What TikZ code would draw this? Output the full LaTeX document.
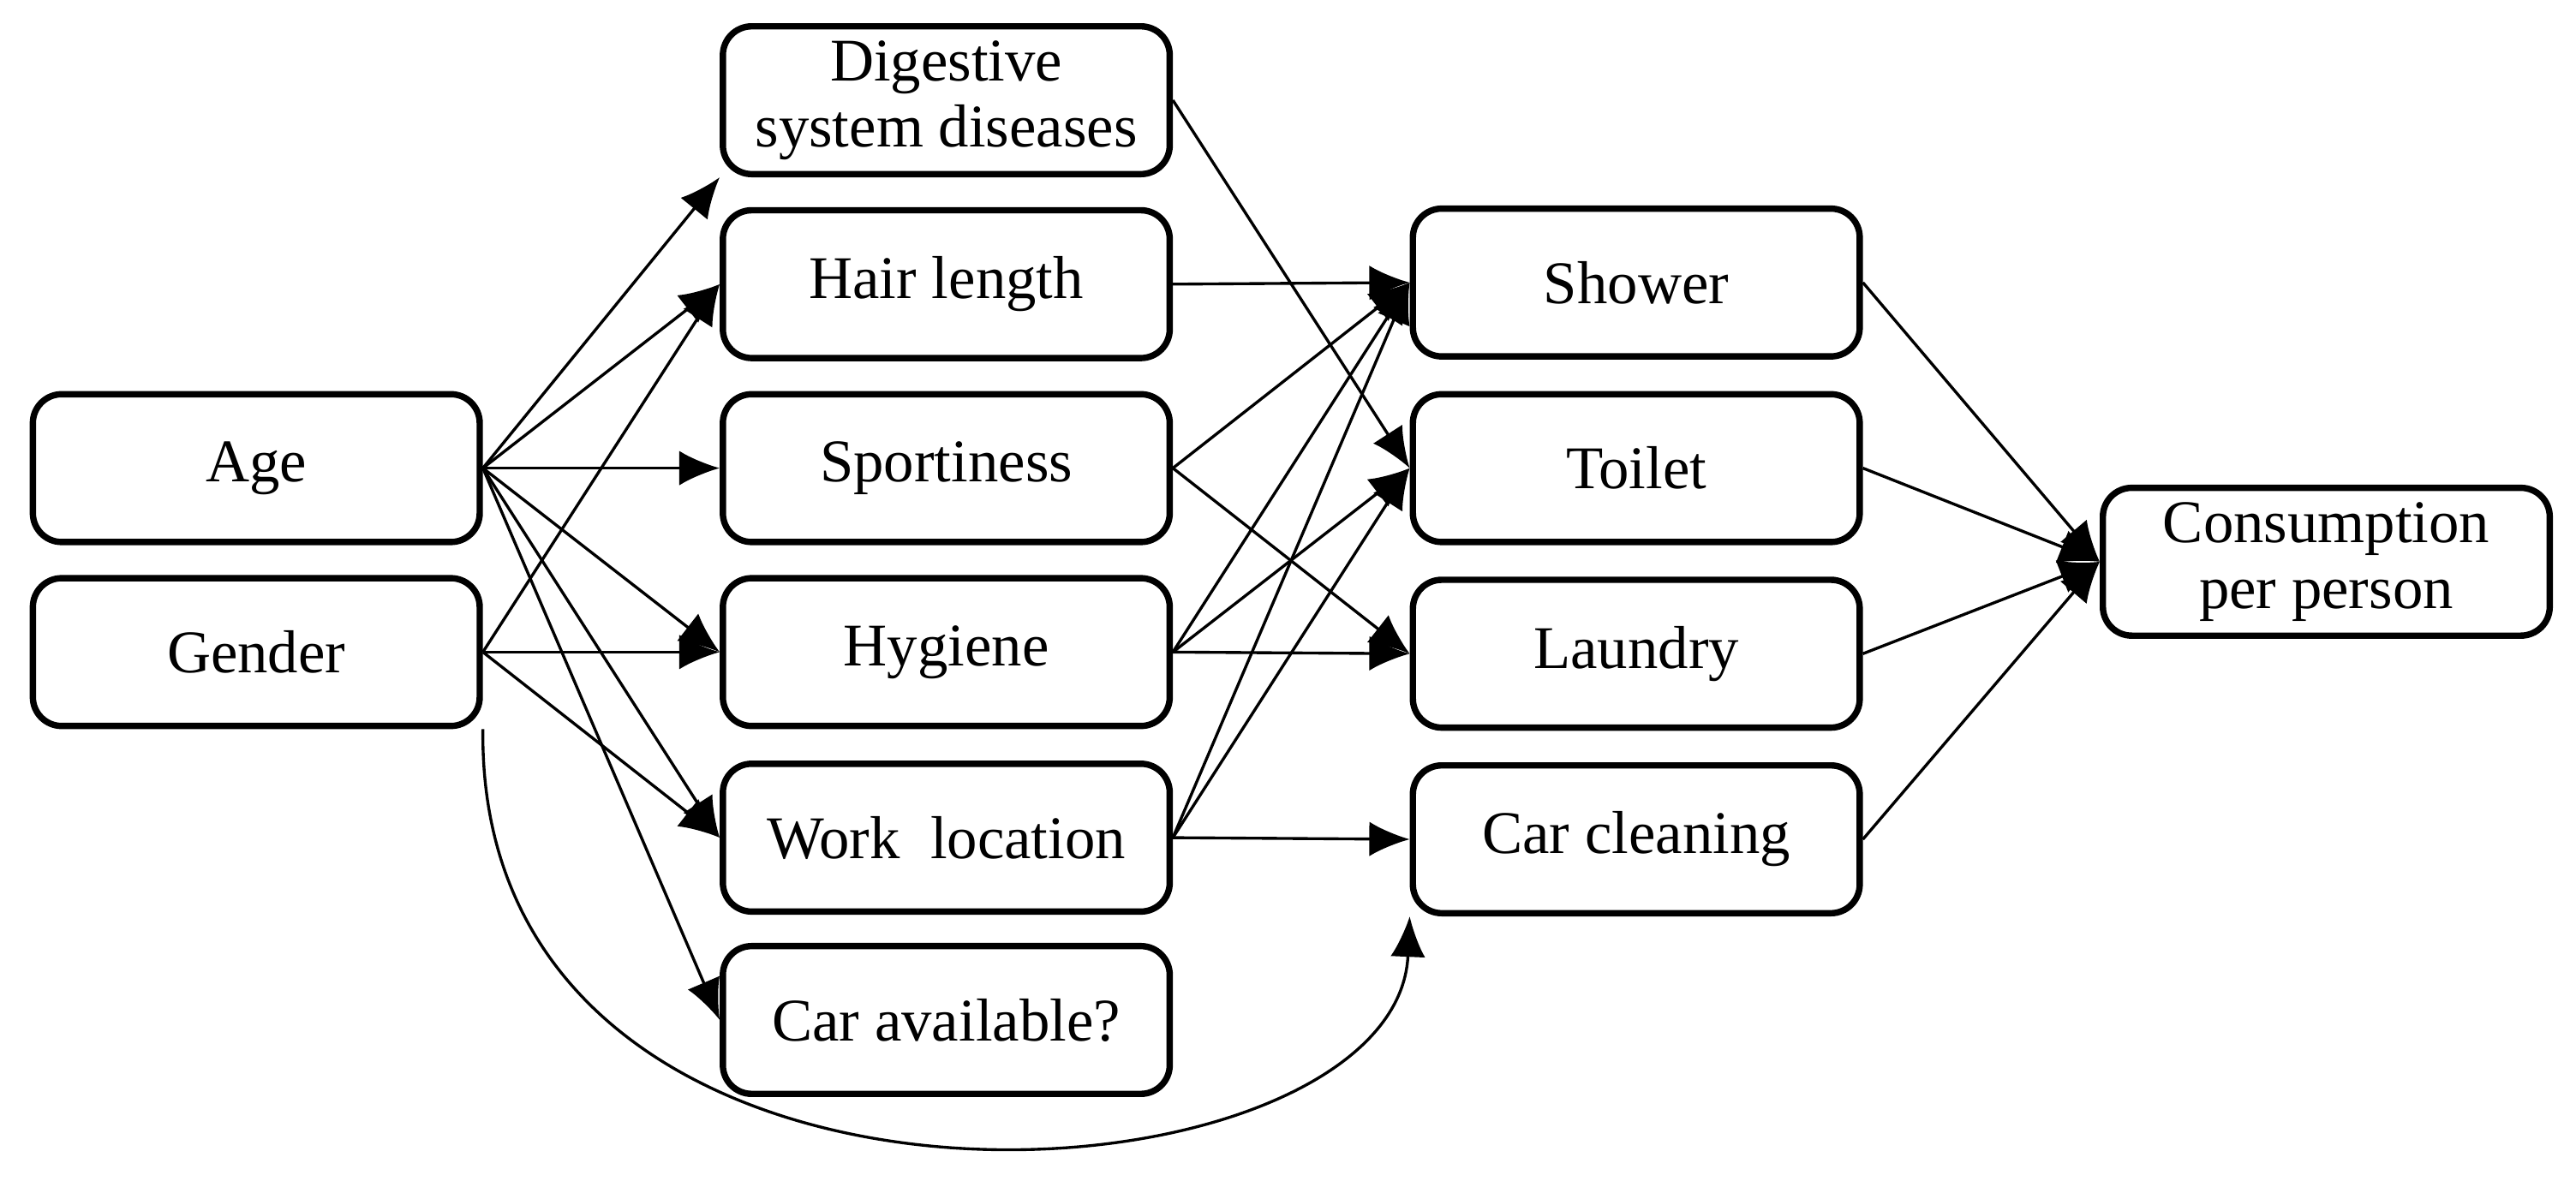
\documentclass[tikz,border=0pt]{standalone}
\usepackage{fontspec}
\setmainfont{Liberation Serif}
\usetikzlibrary{arrows.meta}
\begin{document}
\begin{tikzpicture}[
    box/.style={draw, line width=1.1pt, rounded corners=5pt, minimum width=2.72cm,
      minimum height=0.9cm, align=center, font=\fontsize{10.5}{11.5}\selectfont, inner sep=1pt},
    arr/.style={-{Latex[length=7pt,width=6pt]}, line width=0.5pt}]
\useasboundingbox (0,0) rectangle (15.68,-7.26);

% left column
\node[box] (age) at (1.56,-2.85) {Age};
\node[box] (gen) at (1.56,-3.97) {Gender};

% middle column
\node[box] (dig) at (5.76,-0.61) {Digestive\\system diseases};
\node[box] (hair) at (5.76,-1.73) {Hair length};
\node[box] (spo) at (5.76,-2.85) {Sportiness};
\node[box] (hyg) at (5.76,-3.97) {Hygiene};
\node[box] (work) at (5.76,-5.10) {Work\ \ location};
\node[box] (car) at (5.76,-6.21) {Car available?};

% right column
\node[box] (sho) at (9.96,-1.72) {Shower};
\node[box] (toi) at (9.96,-2.85) {Toilet};
\node[box] (lau) at (9.96,-3.98) {Laundry};
\node[box] (cc) at (9.96,-5.11) {Car cleaning};

\node[box] (con) at (14.16,-3.42) {Consumption\\per person};

% age
\draw[arr] (age.east) -- (dig.south west);
\draw[arr] (age.east) -- (hair.west);
\draw[arr] (age.east) -- (spo.west);
\draw[arr] (age.east) -- (hyg.west);
\draw[arr] (age.east) -- (work.west);
\draw[arr] (age.east) -- (car.west);
% gender
\draw[arr] (gen.east) -- (hair.west);
\draw[arr] (gen.east) -- (hyg.west);
\draw[arr] (gen.east) -- (work.west);
\draw[arr] (gen.south east) .. controls (2.9,-7.8) and (8.5,-7.4) .. (cc.south west);
% middle to right
\draw[arr] (dig.east) -- (toi.west);
\draw[arr] (hair.east) -- (sho.west);
\draw[arr] (spo.east) -- (sho.west);
\draw[arr] (spo.east) -- (lau.west);
\draw[arr] (hyg.east) -- (sho.west);
\draw[arr] (hyg.east) -- (toi.west);
\draw[arr] (hyg.east) -- (lau.west);
\draw[arr] (work.east) -- (sho.west);
\draw[arr] (work.east) -- (toi.west);
\draw[arr] (work.east) -- (cc.west);
% right to consumption
\draw[arr] (sho.east) -- (con.west);
\draw[arr] (toi.east) -- (con.west);
\draw[arr] (lau.east) -- (con.west);
\draw[arr] (cc.east) -- (con.west);
\end{tikzpicture}
\end{document}
